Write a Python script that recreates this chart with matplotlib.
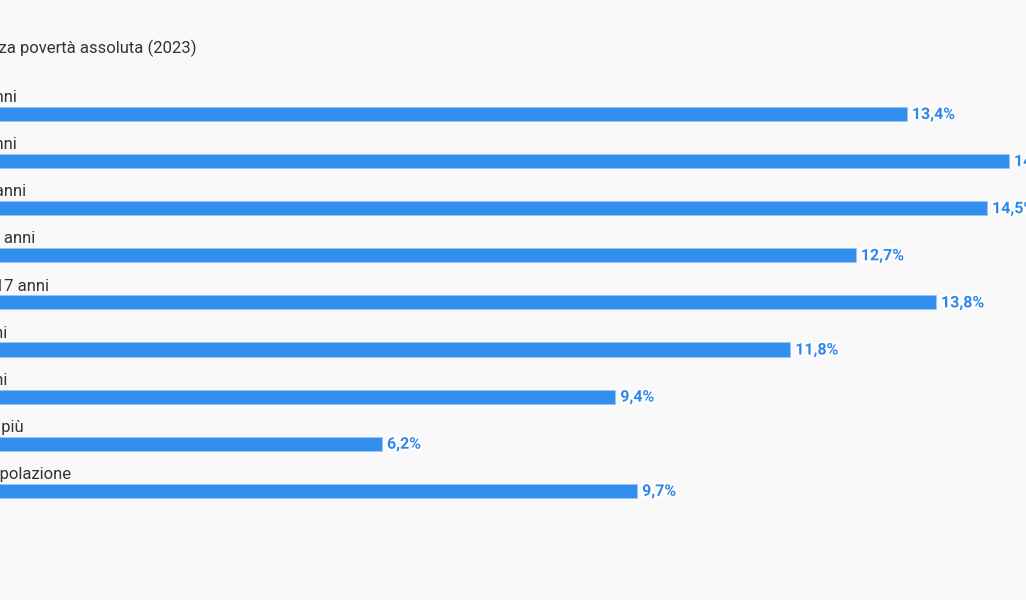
import matplotlib.pyplot as plt
from matplotlib.transforms import offset_copy
import matplotlib.patheffects as pe

# ---- data ----
categories = ["Età 0-3 anni", "Età 4-6 anni", "Età 7-13 anni",
              "Età 14-17 anni", "Minori 0-17 anni", "18-34 anni",
              "35-64 anni", "65 anni e più", "Totale popolazione"]
values = [13.4, 14.8, 14.5, 12.7, 13.8, 11.8, 9.4, 6.2, 9.7]
title = "Incidenza povertà assoluta (2023)"

# ---- style ----
BG = "#f9f9f9"
BAR = "#338fee"
VAL = "#2f86e6"
TXT = "#333333"
FONT = ["Roboto", "DejaVu Sans"]

W, H = 1026, 600
fig = plt.figure(figsize=(W / 100, H / 100), dpi=100)
fig.patch.set_facecolor(BG)

# axes placed so that the chart is cut at the left/right edges like the source
x0_px, px_per_unit = -70, 72.9
xmax = 16
ax = fig.add_axes([x0_px / W, 0, xmax * px_per_unit / W, 1])
ax.set_facecolor(BG)
ax.set_xlim(0, xmax)
row0, step = 114, 47.1
ax.set_ylim((H - row0) / step, -row0 / step)
ax.axis("off")

ys = list(range(len(values)))
ax.barh(ys, values, height=0.30, color=BAR, edgecolor="#9cc6f4", linewidth=0.6)

lab_tr = offset_copy(ax.transData, fig=fig, x=0, y=-1.5, units="dots")
val_tr = offset_copy(ax.transData, fig=fig, x=5, y=-0.5, units="dots")
for y, c, v in zip(ys, categories, values):
    ax.text(0, y - 0.38, c, transform=lab_tr, ha="left", va="center",
            fontsize=12, color=TXT, family=FONT)
    t = ax.text(v, y, f"{v:.1f}%".replace(".", ","), transform=val_tr,
                ha="left", va="center", fontsize=11.5, fontweight="bold",
                color=VAL, family=FONT, clip_on=False)
    t.set_path_effects([pe.Stroke(linewidth=3, foreground="white"), pe.Normal()])

title_tr = offset_copy(ax.transData, fig=fig, x=15, y=-1, units="dots")
ax.text(0, -67 / step, title, transform=title_tr,
        ha="left", va="center", fontsize=12, color=TXT, family=FONT)

fig.savefig("out.png", dpi=100, facecolor=BG)
